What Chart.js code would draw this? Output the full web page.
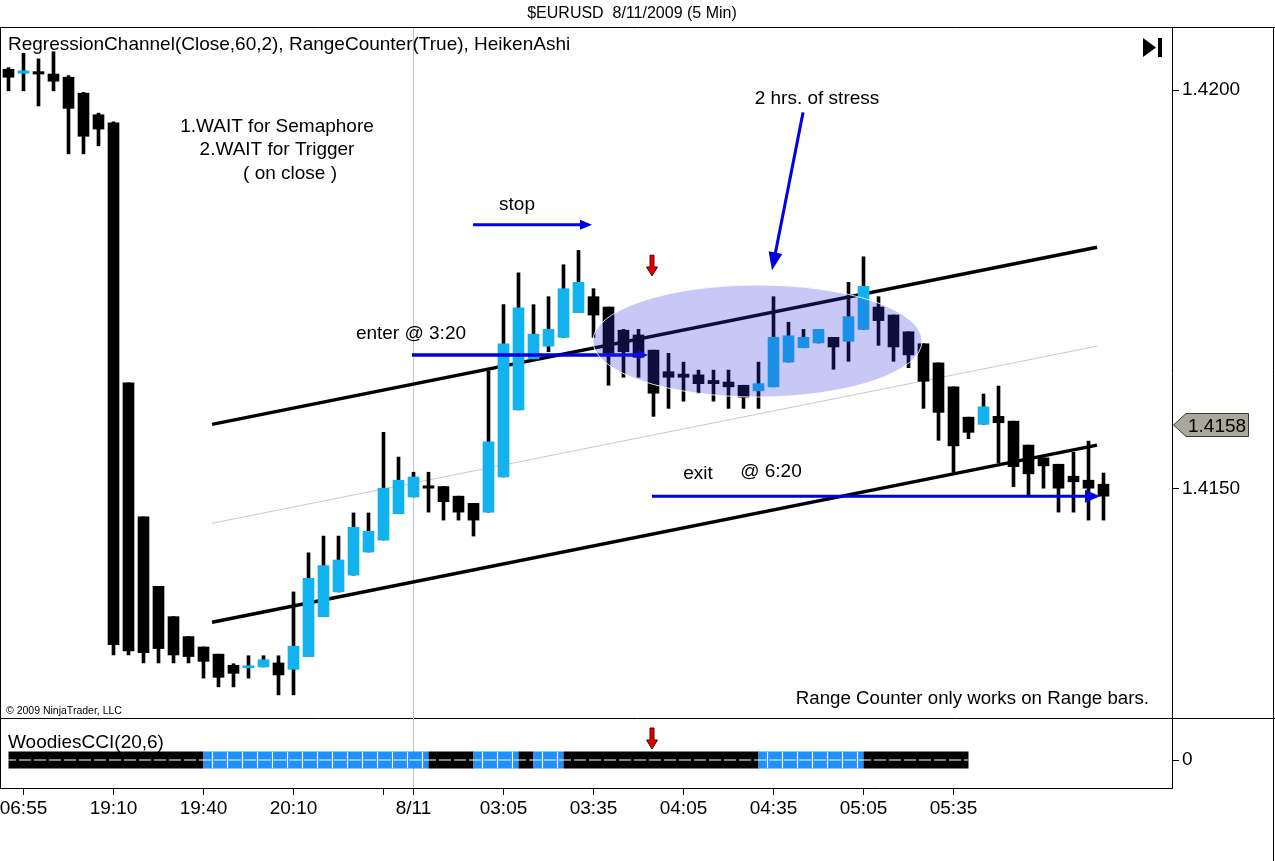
<!DOCTYPE html>
<html>
<head>
<meta charset="utf-8">
<script src="https://cdn.jsdelivr.net/npm/chart.js@4.4.1/dist/chart.umd.min.js"></script>
<style>
  html, body { margin:0; padding:0; background:#fff; }
  body { width:1275px; height:861px; position:relative; overflow:hidden; }
  canvas { position:absolute; left:0; }
  #main { top:0; }
  #cci { top:718px; }
</style>
</head>
<body>
<canvas id="main" width="1275" height="720"></canvas>
<canvas id="cci" width="1275" height="143"></canvas>
<script>
// ---------------- DATA (Heiken Ashi bars, 5 min) ----------------
const openP = [
 1.42026,1.42021,1.42023,1.42020,1.42016,1.41996,1.41969,1.41959,1.41633,1.41465,
 1.41378,1.41340,1.41315,1.41302,1.41293,1.41279,1.41276,1.41277,1.41282,1.41274,
 1.41290,1.41340,1.41371,1.41392,1.41421,1.41436,1.41469,1.41490,1.41504,1.41503,
 1.41491,1.41482,1.41471,1.41515,1.41599,1.41663,1.41679,1.41690,1.41721,1.41741,
 1.41728,1.41699,1.41693,1.41674,1.41647,1.41644,1.41643,1.41636,1.41634,1.41630,
 1.41623,1.41628,1.41659,1.41677,1.41683,1.41690,1.41685,1.41700,1.41728,1.41718,
 1.41697,1.41682,1.41658,1.41628,1.41590,1.41581,1.41591,1.41585,1.41555,1.41539,
 1.41531,1.41516,1.41511,1.41506];
const highP = [
 1.42028,1.42046,1.42039,1.42048,1.42018,1.41997,1.41971,1.41960,1.41633,1.41465,
 1.41378,1.41340,1.41315,1.41302,1.41293,1.41281,1.41291,1.41291,1.41291,1.41371,
 1.41420,1.41441,1.41441,1.41470,1.41470,1.41571,1.41540,1.41521,1.41521,1.41503,
 1.41491,1.41482,1.41648,1.41731,1.41771,1.41731,1.41741,1.41781,1.41799,1.41751,
 1.41728,1.41700,1.41700,1.41674,1.41670,1.41659,1.41649,1.41649,1.41649,1.41630,
 1.41659,1.41741,1.41709,1.41700,1.41700,1.41690,1.41759,1.41791,1.41741,1.41718,
 1.41697,1.41682,1.41658,1.41628,1.41590,1.41619,1.41629,1.41585,1.41555,1.41539,
 1.41531,1.41546,1.41560,1.41520];
const lowP = [
 1.41999,1.41999,1.41980,1.41999,1.41920,1.41920,1.41930,1.41292,1.41292,1.41282,
 1.41282,1.41282,1.41282,1.41263,1.41252,1.41252,1.41263,1.41277,1.41242,1.41242,
 1.41290,1.41340,1.41371,1.41392,1.41421,1.41436,1.41469,1.41490,1.41471,1.41461,
 1.41461,1.41441,1.41471,1.41515,1.41599,1.41663,1.41672,1.41690,1.41721,1.41690,
 1.41630,1.41640,1.41640,1.41591,1.41601,1.41610,1.41620,1.41610,1.41601,1.41601,
 1.41601,1.41628,1.41659,1.41677,1.41683,1.41650,1.41660,1.41700,1.41680,1.41660,
 1.41652,1.41601,1.41561,1.41521,1.41563,1.41581,1.41533,1.41503,1.41492,1.41501,
 1.41471,1.41471,1.41461,1.41461];
const closeP = [
 1.42016,1.42024,1.42020,1.42011,1.41977,1.41942,1.41951,1.41305,1.41297,1.41295,
 1.41300,1.41292,1.41290,1.41284,1.41264,1.41269,1.41278,1.41286,1.41267,1.41303,
 1.41388,1.41404,1.41411,1.41452,1.41447,1.41501,1.41511,1.41515,1.41501,1.41484,
 1.41471,1.41461,1.41559,1.41682,1.41727,1.41694,1.41700,1.41751,1.41759,1.41718,
 1.41670,1.41672,1.41665,1.41620,1.41640,1.41640,1.41632,1.41632,1.41628,1.41615,
 1.41632,1.41690,1.41692,1.41690,1.41700,1.41678,1.41716,1.41754,1.41711,1.41678,
 1.41668,1.41635,1.41596,1.41554,1.41571,1.41603,1.41583,1.41528,1.41519,1.41529,
 1.41501,1.41509,1.41501,1.41491];

// Regression channel (Close,60,2) end points: bar position and price
const channelX     = [13.57, 72.57];
const channelUpper = [1.41581, 1.41803];
const channelMid   = [1.41457, 1.41679];
const channelLower = [1.41333, 1.41555];

// WoodiesCCI(20,6) trend state per bar (1 = blue, 0 = black)
const cciState = [
 0,0,0,0,0,0,0,0,0,0,0,0,0,
 1,1,1,1,1,1,1,1,1,1,1,1,1,1,1,
 0,0,0,
 1,1,1,
 0,
 1,1,
 0,0,0,0,0,0,0,0,0,0,0,0,0,
 1,1,1,1,1,1,1,
 0,0,0,0,0,0,0,0];
const cciZero = 0;

// Axis ticks
const timeTickPos    = [1, 7, 13, 19, 25, 27, 33, 39, 45, 51, 57, 63];
const timeTickLabels = ["06:55","19:10","19:40","20:10","","8/11","03:05","03:35","04:05","04:35","05:05","05:35"];
const priceTicks = [1.4150, 1.4200];
const cciTicks = [0];
const lastPrice = 1.4158;
const dateBreakBar = 27;

// Drawn annotations (bar position, price)
const stopArrowX = [30.97, 38.9],  stopArrowP = 1.41831;
const enterLineX = [26.9, 42.63],  enterLineP = 1.41668;
const exitArrowX = [42.9, 72.77],  exitArrowP = 1.41491;
const stressArrowX = [52.97, 50.9], stressArrowP = [1.41972, 1.41774];
const stressEllipse = [49.93, 1.416854, 10.97, 0.000702]; // cx, cy, rx(bars), ry(price)
const signalBar = 42.9;
const signalArrowP = [1.41793, 1.41767];

// ---------------- STYLE ----------------
const FONT = '"Liberation Sans", Arial, Helvetica, sans-serif';
const CYAN = '#12b2ee';
const CCI_BLUE = '#1e90ff';
const ANNO_BLUE = 'rgb(0,0,232)';
Chart.defaults.font.family = FONT;
Chart.defaults.font.size = 19;
Chart.defaults.color = '#000';

const X_MIN = -8.5 / 15, X_MAX = (1172 - 8.5) / 15;
const Y_MIN = 1.412130, Y_MAX = 1.420777;

function arrow(ctx, x1, y1, x2, y2, w, headL, headW, color) {
  const a = Math.atan2(y2 - y1, x2 - x1);
  const bx = x2 - headL * Math.cos(a), by = y2 - headL * Math.sin(a);
  ctx.save();
  ctx.strokeStyle = color; ctx.fillStyle = color; ctx.lineWidth = w; ctx.lineCap = 'butt';
  ctx.beginPath(); ctx.moveTo(x1, y1); ctx.lineTo(bx + Math.cos(a), by + Math.sin(a)); ctx.stroke();
  ctx.beginPath(); ctx.moveTo(x2, y2);
  ctx.lineTo(bx + headW * Math.sin(a), by - headW * Math.cos(a));
  ctx.lineTo(bx - headW * Math.sin(a), by + headW * Math.cos(a));
  ctx.closePath(); ctx.fill();
  ctx.restore();
}
function redArrow(ctx, x, yTop, yTip) {
  ctx.save();
  ctx.fillStyle = '#e00000'; ctx.strokeStyle = '#5a0000'; ctx.lineWidth = 1;
  const hb = yTip - 9;
  ctx.beginPath();
  ctx.moveTo(x - 2, yTop); ctx.lineTo(x + 2, yTop); ctx.lineTo(x + 2, hb);
  ctx.lineTo(x + 5.5, hb); ctx.lineTo(x, yTip); ctx.lineTo(x - 5.5, hb);
  ctx.lineTo(x - 2, hb); ctx.closePath();
  ctx.fill(); ctx.stroke();
  ctx.restore();
}
function text(ctx, s, x, y, size, align) {
  ctx.save();
  ctx.font = size + 'px ' + FONT;
  ctx.fillStyle = '#000';
  ctx.textAlign = align || 'left';
  ctx.textBaseline = 'alphabetic';
  ctx.fillText(s, x, y);
  ctx.restore();
}
function frameRightLine(ctx, y0, y1) {
  ctx.save(); ctx.strokeStyle = '#000'; ctx.lineWidth = 1;
  ctx.beginPath(); ctx.moveTo(1273.5, y0); ctx.lineTo(1273.5, y1); ctx.stroke();
  ctx.restore();
}

const mainOverlay = {
  id: 'mainOverlay',
  beforeDatasetsDraw(chart) {
    const ctx = chart.ctx, a = chart.chartArea;
    const x = Math.round(chart.scales.x.getPixelForValue(dateBreakBar)) - 0.5;
    ctx.save(); ctx.strokeStyle = '#c4c4c4'; ctx.lineWidth = 1;
    ctx.beginPath(); ctx.moveTo(x, a.top); ctx.lineTo(x, a.bottom); ctx.stroke();
    ctx.restore();
  },
  afterDraw(chart) {
    const ctx = chart.ctx, a = chart.chartArea;
    const X = v => chart.scales.x.getPixelForValue(v);
    const Y = v => chart.scales.y.getPixelForValue(v);

    arrow(ctx, X(enterLineX[0]), Y(enterLineP), X(enterLineX[1]), Y(enterLineP), 3.5, 10, 4.5, ANNO_BLUE);
    arrow(ctx, X(stopArrowX[0]), Y(stopArrowP), X(stopArrowX[1]), Y(stopArrowP), 3, 12, 5, ANNO_BLUE);
    arrow(ctx, X(exitArrowX[0]), Y(exitArrowP), X(exitArrowX[1]), Y(exitArrowP), 3, 15, 6.5, ANNO_BLUE);
    arrow(ctx, X(stressArrowX[0]), Y(stressArrowP[0]), X(stressArrowX[1]), Y(stressArrowP[1]), 3, 18, 7, ANNO_BLUE);
    redArrow(ctx, X(signalBar), Y(signalArrowP[0]), Y(signalArrowP[1]));

    const cx = X(stressEllipse[0]), cy = Y(stressEllipse[1]);
    const rx = X(stressEllipse[0] + stressEllipse[2]) - cx;
    const ry = Y(stressEllipse[1] - stressEllipse[3]) - cy;
    ctx.save();
    ctx.beginPath(); ctx.ellipse(cx, cy, rx, ry, 0, 0, Math.PI * 2);
    ctx.fillStyle = 'rgba(50,50,220,0.27)'; ctx.fill();
    ctx.strokeStyle = 'rgba(255,255,255,0.85)'; ctx.lineWidth = 1; ctx.stroke();
    ctx.restore();

    text(ctx, '1.WAIT for Semaphore', X(17.9), Y(1.41956) + 7, 19, 'center');
    text(ctx, '2.WAIT for Trigger', X(17.9), Y(1.41927) + 7, 19, 'center');
    text(ctx, '( on close )', X(18.77), Y(1.41897) + 7, 19, 'center');
    text(ctx, 'stop', X(33.9), Y(1.41858) + 7, 19, 'center');
    text(ctx, 'enter @ 3:20', X(26.83), Y(1.41697) + 7, 19, 'center');
    text(ctx, '2 hrs. of stress', X(53.9), Y(1.41991) + 7, 19, 'center');
    text(ctx, 'exit', X(45.97), Y(1.41521) + 7, 19, 'center');
    text(ctx, '@ 6:20', X(50.83), Y(1.41524) + 7, 19, 'center');

    text(ctx, '$EURUSD  8/11/2009 (5 Min)', 632, 18, 16, 'center');
    text(ctx, 'RegressionChannel(Close,60,2), RangeCounter(True), HeikenAshi', a.left + 8, 50, 19, 'left');
    text(ctx, 'Range Counter only works on Range bars.', 1149, 704, 18.7, 'right');
    text(ctx, '\u00A9 2009 NinjaTrader, LLC', a.left + 6, 714, 10.5, 'left');

    ctx.save(); ctx.fillStyle = '#000';
    ctx.beginPath(); ctx.moveTo(1143, 38); ctx.lineTo(1156, 47.5); ctx.lineTo(1143, 57); ctx.closePath(); ctx.fill();
    ctx.fillRect(1158, 38, 4, 19);
    ctx.restore();

    const py = Math.round(Y(lastPrice));
    ctx.save();
    ctx.beginPath();
    ctx.moveTo(1173.5, py); ctx.lineTo(1186, py - 11.5); ctx.lineTo(1248.5, py - 11.5);
    ctx.lineTo(1248.5, py + 11.5); ctx.lineTo(1186, py + 11.5); ctx.closePath();
    ctx.fillStyle = '#a9a89a'; ctx.fill();
    ctx.strokeStyle = '#3a3a3a'; ctx.lineWidth = 1; ctx.stroke();
    ctx.restore();
    text(ctx, lastPrice.toFixed(4), 1188, py + 7, 19, 'left');

    ctx.save(); ctx.strokeStyle = '#000'; ctx.lineWidth = 1;
    ctx.beginPath();
    ctx.moveTo(0, a.top - 0.5); ctx.lineTo(1275, a.top - 0.5);
    ctx.moveTo(0.5, a.top); ctx.lineTo(0.5, a.bottom);
    ctx.moveTo(0, a.bottom + 0.5); ctx.lineTo(1275, a.bottom + 0.5);
    ctx.stroke();
    ctx.restore();
    frameRightLine(ctx, a.top - 1, chart.height);
  }
};

const candleBodies = openP.map((o, i) => ({ x: i, y: [o, closeP[i]] }));
const candleWicks  = lowP.map((l, i) => ({ x: i, y: [l, highP[i]] }));
const bodyColors   = openP.map((o, i) => closeP[i] >= o ? CYAN : '#000');
const toPts = arr => channelX.map((x, i) => ({ x, y: arr[i] }));

new Chart(document.getElementById('main'), {
  type: 'bar',
  data: {
    datasets: [
      { type: 'bar', data: candleBodies, backgroundColor: bodyColors, borderWidth: 0,
        barThickness: 11, grouped: false, minBarLength: 2, order: 1 },
      { type: 'bar', data: candleWicks, backgroundColor: '#000', borderWidth: 0,
        barThickness: 3, grouped: false, order: 2 },
      { type: 'line', data: toPts(channelUpper), borderColor: '#000', borderWidth: 3.5, pointRadius: 0, order: 3 },
      { type: 'line', data: toPts(channelMid), borderColor: '#c9c9c9', borderWidth: 1, pointRadius: 0, order: 3 },
      { type: 'line', data: toPts(channelLower), borderColor: '#000', borderWidth: 3.5, pointRadius: 0, order: 3 }
    ]
  },
  options: {
    responsive: false, animation: false, events: [],
    layout: { autoPadding: false, padding: { top: 28, bottom: 2, left: 0, right: 0 } },
    plugins: { legend: { display: false }, tooltip: { enabled: false } },
    scales: {
      x: { type: 'linear', min: X_MIN, max: X_MAX, display: false, offset: false },
      y: {
        type: 'linear', position: 'right', min: Y_MIN, max: Y_MAX,
        afterBuildTicks: s => { s.ticks = priceTicks.map(v => ({ value: v })); },
        afterFit: s => { s.width = 103; s.paddingTop = 0; s.paddingBottom = 0; },
        ticks: { callback: v => Number(v).toFixed(4), font: { size: 19 }, color: '#000', padding: 3 },
        grid: { drawOnChartArea: false, drawTicks: true, tickLength: 7, color: '#000' },
        border: { display: true, color: '#000', width: 1 }
      }
    }
  },
  plugins: [mainOverlay]
});

// ---------------- CCI panel ----------------
const cciOverlay = {
  id: 'cciOverlay',
  beforeDatasetsDraw(chart) {
    const ctx = chart.ctx, a = chart.chartArea;
    const x = Math.round(chart.scales.x.getPixelForValue(dateBreakBar)) - 0.5;
    ctx.save(); ctx.strokeStyle = '#c4c4c4'; ctx.lineWidth = 1;
    ctx.beginPath(); ctx.moveTo(x, a.top); ctx.lineTo(x, a.bottom); ctx.stroke();
    ctx.restore();
  },
  afterDraw(chart) {
    const ctx = chart.ctx, a = chart.chartArea;
    text(ctx, 'WoodiesCCI(20,6)', a.left + 8, 30, 19, 'left');
    redArrow(ctx, chart.scales.x.getPixelForValue(signalBar), 10, 31);
    frameRightLine(ctx, 0, chart.height);
    ctx.save(); ctx.strokeStyle = '#000'; ctx.lineWidth = 1;
    ctx.beginPath(); ctx.moveTo(0.5, a.top); ctx.lineTo(0.5, a.bottom); ctx.stroke();
    ctx.restore();
  }
};

const cciBand  = cciState.map((s, i) => ({ x: i, y: cciZero }));
const cciCross = cciState.flatMap((s, i) => s ? [{ x: i + 0.6, y: cciZero }] : []);

new Chart(document.getElementById('cci'), {
  type: 'line',
  data: {
    datasets: [
      { data: cciCross, showLine: false, pointStyle: 'line', rotation: 90, pointRadius: 8,
        pointBorderColor: '#fff', pointBorderWidth: 1.2, order: 1 },
      { data: cciBand, borderColor: '#fff', borderWidth: 1.2, borderDash: [12, 3], borderDashOffset: 4.5,
        pointRadius: 0, order: 2 },
      { data: cciBand, borderWidth: 17, borderCapStyle: 'butt', pointRadius: 0, borderColor: '#000',
        segment: { borderColor: c => cciState[c.p0DataIndex] ? CCI_BLUE : '#000' }, order: 3 }
    ]
  },
  options: {
    responsive: false, animation: false, events: [],
    layout: { autoPadding: false, padding: 0 },
    plugins: { legend: { display: false }, tooltip: { enabled: false } },
    scales: {
      x: {
        type: 'linear', position: 'bottom', min: X_MIN, max: X_MAX, offset: false,
        afterBuildTicks: s => { s.ticks = timeTickPos.map(v => ({ value: v })); },
        afterFit: s => { s.height = 73; s.paddingLeft = 0; s.paddingRight = 0; },
        ticks: { callback: (v, i) => timeTickLabels[i], autoSkip: false, maxRotation: 0, minRotation: 0,
                 font: { size: 19 }, color: '#000', padding: 2 },
        grid: { drawOnChartArea: false, drawTicks: true, tickLength: 7, color: '#000' },
        border: { display: true, color: '#000', width: 1 }
      },
      y: {
        type: 'linear', position: 'right', min: -200, max: 300,
        afterBuildTicks: s => { s.ticks = cciTicks.map(v => ({ value: v })); },
        afterFit: s => { s.width = 103; s.paddingTop = 0; s.paddingBottom = 0; },
        ticks: { callback: v => String(v), font: { size: 19 }, color: '#000', padding: 3 },
        grid: { drawOnChartArea: false, drawTicks: true, tickLength: 7, color: '#000' },
        border: { display: true, color: '#000', width: 1 }
      }
    }
  },
  plugins: [cciOverlay]
});
</script>
</body>
</html>
